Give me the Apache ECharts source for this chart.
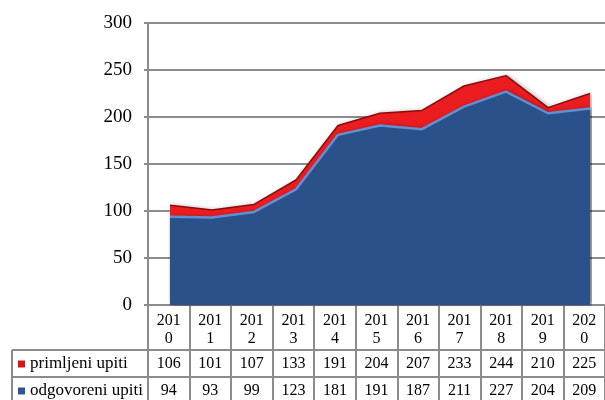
<!DOCTYPE html>
<html>
<head>
<meta charset="utf-8">
<script src="https://cdn.jsdelivr.net/npm/echarts@6/dist/echarts.min.js"></script>
<style>
    html, body { margin: 0; padding: 0; background: #fff; }
    #chart { width: 605px; height: 400px; }
</style>
</head>
<body>
<div id="chart"></div>
<script>
    // godine i vrijednosti
    var godine = ['2010', '2011', '2012', '2013', '2014', '2015', '2016', '2017', '2018', '2019', '2020'];
    var primljeni = [106, 101, 107, 133, 191, 204, 207, 233, 244, 210, 225];
    var odgovoreni = [94, 93, 99, 123, 181, 191, 187, 211, 227, 204, 209];
    var yTicks = [0, 50, 100, 150, 200, 250, 300];

    var FONT = 'Liberation Serif';
    var GRID_COLOR = '#8c8c8c';

    var chart = echarts.init(document.getElementById('chart'));

    // redak tablice ispod osi (x os s pomakom)
    function tableRow(offset, tickLen, margin, formatter) {
        return {
            type: 'category',
            gridIndex: 0,
            position: 'bottom',
            offset: offset,
            data: godine,
            boundaryGap: true,
            axisLine: { show: true, lineStyle: { color: GRID_COLOR, width: 2 } },
            axisTick: { show: true, length: tickLen, lineStyle: { color: GRID_COLOR, width: 2 } },
            axisLabel: {
                interval: 0,
                margin: margin,
                fontFamily: FONT,
                fontSize: 16,
                lineHeight: 18,
                color: '#000',
                formatter: formatter
            },
            splitLine: { show: false }
        };
    }

    // jedna stavka legende u lijevom stupcu tablice
    function legendRow(name, top) {
        return {
            orient: 'vertical',
            left: 18,
            top: top,
            padding: 0,
            itemWidth: 7,
            itemHeight: 7,
            icon: 'rect',
            data: [name],
            textStyle: {
                fontFamily: FONT,
                fontSize: 17,
                lineHeight: 18,
                color: '#000'
            }
        };
    }

    var option = {
        animation: false,
        backgroundColor: '#fff',
        textStyle: { fontFamily: FONT },
        grid: [
            { left: 148, top: 23, width: 458, height: 282 },
            { left: 170, top: 23, width: 420, height: 282 }
        ],
        legend: [
            legendRow('primljeni upiti', 355),
            legendRow('odgovoreni upiti', 382)
        ],
        xAxis: [
            tableRow(0, 45, 7, function (v) { return v.slice(0, 3) + '\n' + v.slice(3); }),
            tableRow(45, 27, 5, function (v, i) { return String(primljeni[i]); }),
            tableRow(72, 32, 5, function (v, i) { return String(odgovoreni[i]); }),
            {
                type: 'category',
                gridIndex: 1,
                data: godine,
                boundaryGap: false,
                show: false
            }
        ],
        yAxis: [
            {
                type: 'value',
                gridIndex: 0,
                min: yTicks[0],
                max: yTicks[yTicks.length - 1],
                interval: 50,
                axisLine: { show: true, lineStyle: { color: GRID_COLOR, width: 2 } },
                axisTick: { show: true, length: 4, lineStyle: { color: GRID_COLOR, width: 2 } },
                axisLabel: { margin: 16, fontFamily: FONT, fontSize: 19, color: '#000' },
                splitLine: { show: true, lineStyle: { color: GRID_COLOR, width: 2 } }
            },
            {
                type: 'value',
                gridIndex: 1,
                min: yTicks[0],
                max: yTicks[yTicks.length - 1],
                show: false
            }
        ],
        series: [
            {
                name: 'primljeni upiti',
                type: 'line',
                xAxisIndex: 3,
                yAxisIndex: 1,
                data: primljeni,
                symbol: 'none',
                itemStyle: { color: '#d8141a' },
                lineStyle: { color: '#8e0a0a', width: 1.5 },
                areaStyle: {
                    color: '#ec1d20',
                    opacity: 1,
                    shadowBlur: 5,
                    shadowColor: 'rgba(0,0,0,0.35)',
                    shadowOffsetX: 2
                }
            },
            {
                name: 'odgovoreni upiti',
                type: 'line',
                xAxisIndex: 3,
                yAxisIndex: 1,
                data: odgovoreni,
                symbol: 'none',
                itemStyle: { color: '#2e5694' },
                lineStyle: { color: '#5f90d4', width: 2.5 },
                areaStyle: {
                    color: '#2a5189',
                    opacity: 1,
                    shadowBlur: 5,
                    shadowColor: 'rgba(0,0,0,0.4)',
                    shadowOffsetX: 2
                }
            }
        ],
        // lijevi stupac tablice (okvir legende)
        graphic: [
            { type: 'line', shape: { x1: 12, y1: 350, x2: 148, y2: 350 }, style: { stroke: GRID_COLOR, lineWidth: 2 } },
            { type: 'line', shape: { x1: 12, y1: 377, x2: 148, y2: 377 }, style: { stroke: GRID_COLOR, lineWidth: 2 } },
            { type: 'line', shape: { x1: 12, y1: 350, x2: 12, y2: 404 }, style: { stroke: GRID_COLOR, lineWidth: 2 } }
        ]
    };

    chart.setOption(option);
</script>
</body>
</html>
